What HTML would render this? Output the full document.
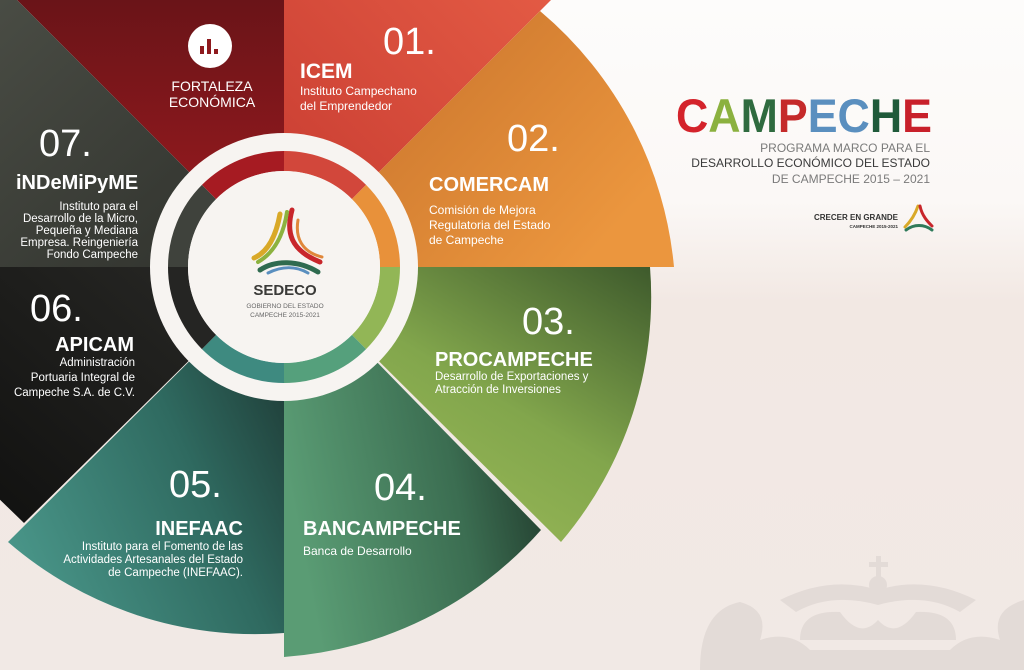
<!DOCTYPE html>
<html><head><meta charset="utf-8"><style>
html,body{margin:0;padding:0;width:1024px;height:670px;overflow:hidden;background:#f3ece8}
svg{display:block}
text{font-family:"Liberation Sans",sans-serif}
</style></head><body>
<svg width="1024" height="670" viewBox="0 0 1024 670" xmlns="http://www.w3.org/2000/svg">
<defs>
<linearGradient id="bg" x1="0" y1="0" x2="0" y2="1"><stop offset="0" stop-color="#fdfcfb"/><stop offset="0.3" stop-color="#fbf8f6"/><stop offset="0.45" stop-color="#f2e8e3"/><stop offset="1" stop-color="#f1e9e5"/></linearGradient>
<linearGradient id="gF" x1="0" y1="1" x2="0" y2="0"><stop offset="0" stop-color="#a01b20"/><stop offset="1" stop-color="#6a1418"/></linearGradient>
<linearGradient id="g1" x1="0" y1="1" x2="1" y2="0"><stop offset="0" stop-color="#c63a30"/><stop offset="1" stop-color="#e35a44"/></linearGradient>
<linearGradient id="g2" x1="0" y1="0" x2="1" y2="0.6"><stop offset="0" stop-color="#6e4220"/><stop offset="0.45" stop-color="#d47f32"/><stop offset="1" stop-color="#eb963e"/></linearGradient>
<linearGradient id="g3" x1="0.2" y1="1" x2="1" y2="0"><stop offset="0" stop-color="#9fbd5a"/><stop offset="0.5" stop-color="#82a64c"/><stop offset="1" stop-color="#3e5a2c"/></linearGradient>
<linearGradient id="g4" x1="0" y1="0.5" x2="1" y2="0.2"><stop offset="0" stop-color="#5a9c74"/><stop offset="0.6" stop-color="#3b6d51"/><stop offset="1" stop-color="#1d3327"/></linearGradient>
<linearGradient id="g5" x1="0" y1="0.8" x2="1" y2="0.2"><stop offset="0" stop-color="#4a978a"/><stop offset="0.6" stop-color="#2f6a60"/><stop offset="1" stop-color="#1e3a35"/></linearGradient>
<linearGradient id="g6" x1="0" y1="1" x2="1" y2="0"><stop offset="0" stop-color="#111110"/><stop offset="1" stop-color="#2a2a27"/></linearGradient>
<linearGradient id="g7" x1="0" y1="0" x2="1" y2="1"><stop offset="0" stop-color="#4a4d45"/><stop offset="1" stop-color="#2e302b"/></linearGradient>
</defs>
<rect width="1024" height="670" fill="url(#bg)"/>
<!-- watermark crown -->
<g fill="#e3dbd7" stroke="none">
<rect x="876" y="556" width="5" height="22"/><rect x="869" y="562" width="19" height="5"/>
<circle cx="878" cy="585" r="9"/>
<path d="M780,600 Q830,575 878,590 Q926,575 976,600 L960,612 Q925,592 878,605 Q831,592 796,612 Z"/>
<path d="M800,640 Q800,610 840,612 Q860,640 878,620 Q896,640 916,612 Q956,610 956,640 Z"/>
<path d="M700,670 Q700,610 740,602 Q770,610 760,640 Q790,630 810,650 L950,650 Q970,630 1000,640 Q990,610 1024,600 L1024,670 Z"/>
</g>
<!-- sectors (center 284,267) -->
<polygon points="284,267 17,0 284,0" fill="url(#gF)"/>
<polygon points="284,267 284,0 551,0" fill="url(#g1)"/>
<path d="M284,267 L540,11 A380,380 0 0 1 674,267 Z" fill="url(#g2)"/>
<path d="M284,267 L650,267 A378,378 0 0 1 561,542 Z" fill="url(#g3)"/>
<path d="M284,267 L541,530 A378,378 0 0 1 284,657 Z" fill="url(#g4)"/>
<path d="M284,267 L284,633 A378,378 0 0 1 8,542 Z" fill="url(#g5)"/>
<polygon points="284,267 24,523 -10,490 -10,267" fill="url(#g6)"/>
<polygon points="284,267 -10,267 -10,-10 0,-10 17,0" fill="url(#g7)"/>
<!-- center rings -->
<circle cx="284" cy="267" r="134" fill="#f7f4f1"/>
<g fill="none" stroke-width="20">
<path d="M284,161 A106,106 0 0 1 359,192" stroke="#d2473b"/>
<path d="M359,192 A106,106 0 0 1 390,267" stroke="#e8913a"/>
<path d="M390,267 A106,106 0 0 1 359,342" stroke="#92b656"/>
<path d="M359,342 A106,106 0 0 1 284,373" stroke="#55a07c"/>
<path d="M284,373 A106,106 0 0 1 209,342" stroke="#3e8a80"/>
<path d="M209,342 A106,106 0 0 1 178,267" stroke="#252523"/>
<path d="M178,267 A106,106 0 0 1 209,192" stroke="#3f423c"/>
<path d="M209,192 A106,106 0 0 1 284,161" stroke="#a61b22"/>
</g>
<circle cx="284" cy="267" r="96" fill="#f7f4f1"/>
<!-- center logo -->
<g fill="none" stroke-linecap="round">
<path d="M292,210 C286,232 290,250 320,262" stroke="#c8262b" stroke-width="5"/>
<path d="M298,220 C295,238 302,252 322,257" stroke="#e0873a" stroke-width="3"/>
<path d="M280,214 C276,236 268,252 254,258" stroke="#d9a928" stroke-width="5"/>
<path d="M287,212 C283,238 272,254 258,262" stroke="#8cb23f" stroke-width="4"/>
<path d="M260,270 C275,260 298,260 318,272" stroke="#2f6b4f" stroke-width="5"/>
<path d="M268,273 C282,266 296,266 308,273" stroke="#5a8fbf" stroke-width="3"/>
</g>
<text x="285" y="295" text-anchor="middle" font-size="15" font-weight="bold" fill="#3a3a38">SEDECO</text>
<text x="285" y="308" text-anchor="middle" font-size="6.5" fill="#666">GOBIERNO DEL ESTADO</text>
<text x="285" y="317" text-anchor="middle" font-size="6.5" fill="#666">CAMPECHE 2015-2021</text>
<!-- Fortaleza icon -->
<circle cx="210" cy="46" r="22" fill="#fff"/>
<rect x="200" y="46" width="4" height="8" fill="#8e1a1e"/><rect x="207" y="39" width="4" height="15" fill="#8e1a1e"/><rect x="214" y="49" width="4" height="5" fill="#8e1a1e"/>
<g fill="#fff">
<text x="212" y="91" text-anchor="middle" font-size="14">FORTALEZA</text>
<text x="212" y="107" text-anchor="middle" font-size="14">ECONÓMICA</text>
<text x="383" y="54" font-size="38">01.</text>
<text x="300" y="78" font-size="21" font-weight="bold">ICEM</text>
<text x="300" y="95" font-size="12">Instituto Campechano</text>
<text x="300" y="110" font-size="12">del Emprendedor</text>
<text x="507" y="151" font-size="38">02.</text>
<text x="429" y="191" font-size="20" font-weight="bold">COMERCAM</text>
<text x="429" y="214" font-size="12">Comisión de Mejora</text>
<text x="429" y="229" font-size="12">Regulatoria del Estado</text>
<text x="429" y="244" font-size="12">de Campeche</text>
<text x="522" y="334" font-size="38">03.</text>
<text x="435" y="366" font-size="20" font-weight="bold">PROCAMPECHE</text>
<text x="435" y="380" font-size="11.5">Desarrollo de Exportaciones y</text>
<text x="435" y="393" font-size="11.5">Atracción de Inversiones</text>
<text x="374" y="500" font-size="38">04.</text>
<text x="303" y="535" font-size="20" font-weight="bold">BANCAMPECHE</text>
<text x="303" y="555" font-size="12">Banca de Desarrollo</text>
<text x="169" y="497" font-size="38">05.</text>
<text x="243" y="535" text-anchor="end" font-size="20" font-weight="bold">INEFAAC</text>
<text x="243" y="550" text-anchor="end" font-size="11.5">Instituto para el Fomento de las</text>
<text x="243" y="563" text-anchor="end" font-size="11.5">Actividades Artesanales del Estado</text>
<text x="243" y="576" text-anchor="end" font-size="11.5">de Campeche (INEFAAC).</text>
<text x="30" y="321" font-size="38">06.</text>
<text x="134" y="351" text-anchor="end" font-size="20" font-weight="bold">APICAM</text>
<text x="135" y="366" text-anchor="end" font-size="11.5">Administración</text>
<text x="135" y="381" text-anchor="end" font-size="11.5">Portuaria Integral de</text>
<text x="135" y="396" text-anchor="end" font-size="11.5">Campeche S.A. de C.V.</text>
<text x="39" y="156" font-size="38">07.</text>
<text x="16" y="189" font-size="20" font-weight="bold">iNDeMiPyME</text>
<text x="138" y="210" text-anchor="end" font-size="11.5">Instituto para el</text>
<text x="138" y="222" text-anchor="end" font-size="11.5">Desarrollo de la Micro,</text>
<text x="138" y="234" text-anchor="end" font-size="11.5">Pequeña y Mediana</text>
<text x="138" y="246" text-anchor="end" font-size="11.5">Empresa. Reingeniería</text>
<text x="138" y="258" text-anchor="end" font-size="11.5">Fondo Campeche</text>
</g>
<!-- right title -->
<text x="676" y="132" font-size="47" font-weight="bold" textLength="256" lengthAdjust="spacingAndGlyphs"><tspan fill="#d4232b">C</tspan><tspan fill="#8bb13f">A</tspan><tspan fill="#2f6b3f">M</tspan><tspan fill="#c52a2a">P</tspan><tspan fill="#5a8fbf">E</tspan><tspan fill="#5a8fbf">C</tspan><tspan fill="#1f5a3a">H</tspan><tspan fill="#c8202a">E</tspan></text>
<text x="930" y="152" text-anchor="end" font-size="12" fill="#7a7a7a">PROGRAMA MARCO PARA EL</text>
<text x="930" y="167" text-anchor="end" font-size="12" fill="#3a3a3a">DESARROLLO ECONÓMICO DEL ESTADO</text>
<text x="930" y="183" text-anchor="end" font-size="12" fill="#7a7a7a">DE CAMPECHE 2015 – 2021</text>
<text x="898" y="220" text-anchor="end" font-size="8" font-weight="bold" fill="#333">CRECER EN GRANDE</text>
<text x="898" y="228" text-anchor="end" font-size="4.5" font-weight="bold" fill="#333">CAMPECHE 2015-2021</text>
<g fill="none" stroke-width="3" stroke-linecap="round">
<path d="M918,206 C915,215 910,222 905,227" stroke="#d9a928"/>
<path d="M920,206 C922,216 928,222 932,226" stroke="#c8262b"/>
<path d="M906,230 C914,224 924,224 932,230" stroke="#2f7a5a"/>
</g>
</svg>
</body></html>
